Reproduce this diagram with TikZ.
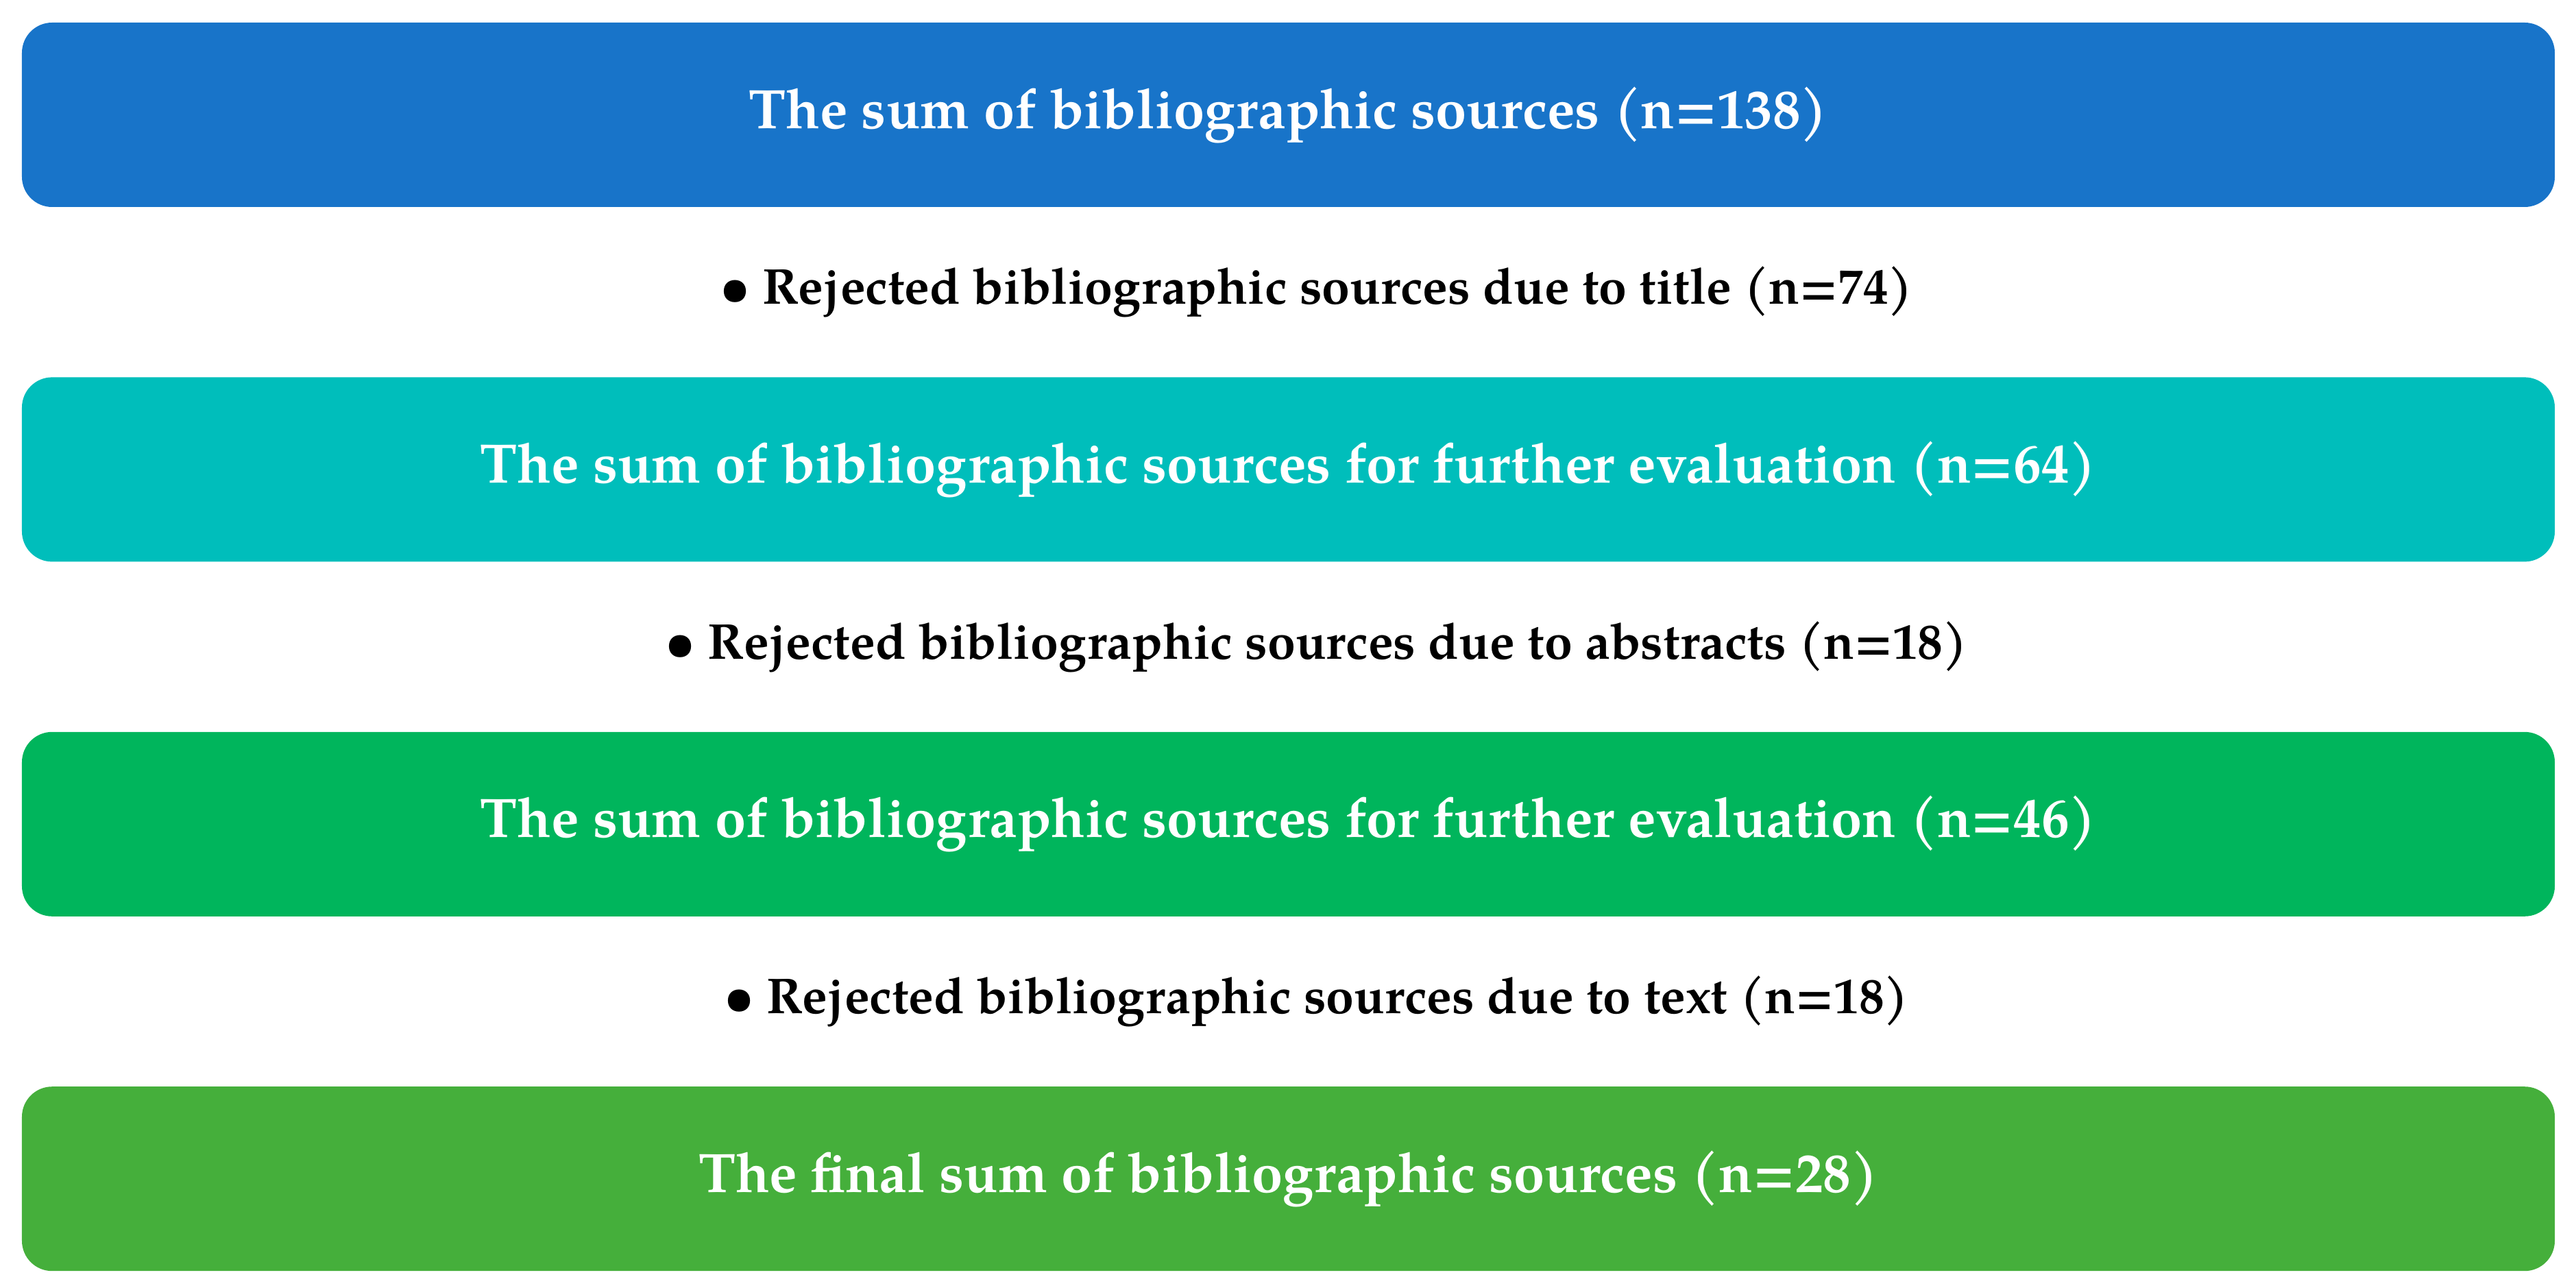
\documentclass[tikz,border=0pt]{standalone}
\usepackage{fontspec}
\setmainfont{TeX Gyre Pagella}
\usetikzlibrary{positioning}
\usetikzlibrary{calc}
\definecolor{blau}{RGB}{24,116,201}
\definecolor{tuerkis}{RGB}{0,190,187}
\definecolor{gruen}{RGB}{0,181,92}
\definecolor{hellgruen}{RGB}{69,175,59}

\begin{document}
\begin{tikzpicture}[node distance=2.47cm]
\useasboundingbox (0,0) rectangle (37.58,18.79);
\tikzstyle{summe}=[shape=rectangle,rounded corners=0.44cm,minimum width=36.95cm,minimum height=2.69cm,inner sep=0pt,text=white,font=\fontsize{23.1pt}{26pt}\selectfont\bfseries]
\tikzstyle{abgelehnt}=[text=black,inner sep=0pt,xshift=0.41cm,font=\fontsize{20.9pt}{24pt}\selectfont\bfseries]

\node[summe,fill=blau] (summe) at (18.795,17.115) {The sum of bibliographic sources (n=138)};
\node[summe,fill=tuerkis,below=of summe] (titel) {The sum of bibliographic sources for further evaluation (n=64)};
\node[summe,fill=gruen,below=of titel] (abstrakt) {The sum of bibliographic sources for further evaluation (n=46)};
\node[summe,fill=hellgruen,below=of abstrakt] (final) {The final sum of bibliographic sources (n=28)};

% Zwischenzeilen mittig in den Luecken
\node[abgelehnt] (wegTitel) at ($(summe.south)!0.5!(titel.north)$) {\textbullet\ Rejected bibliographic sources due to title (n=74)};
\node[abgelehnt] (wegAbstrakt) at ($(titel.south)!0.5!(abstrakt.north)$) {\textbullet\ Rejected bibliographic sources due to abstracts (n=18)};
\node[abgelehnt] (wegText) at ($(abstrakt.south)!0.5!(final.north)$) {\textbullet\ Rejected bibliographic sources due to text (n=18)};
\end{tikzpicture}
\end{document}
